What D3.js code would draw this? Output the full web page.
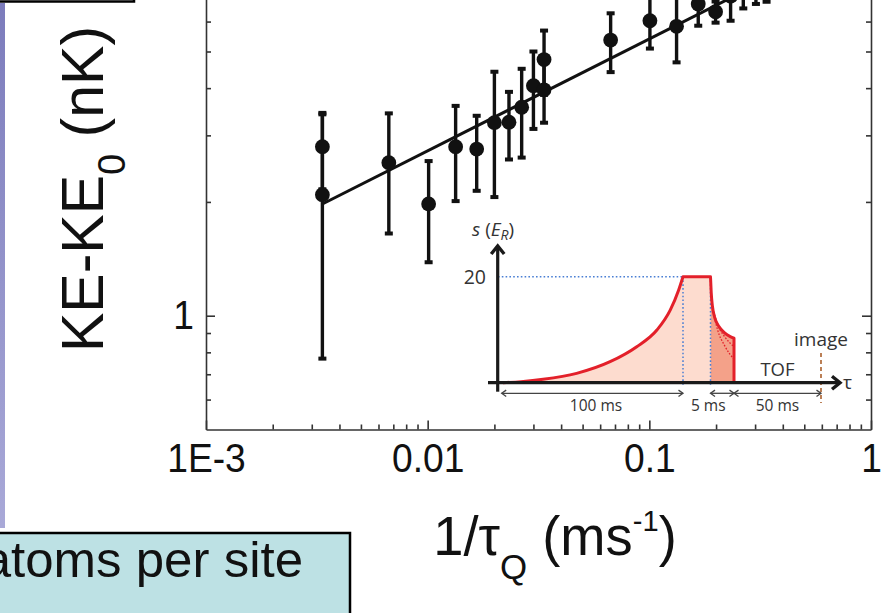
<!DOCTYPE html>
<html><head><meta charset="utf-8">
<script src="https://cdn.jsdelivr.net/npm/d3@7"></script>
<style>html,body{margin:0;padding:0;background:#fff;overflow:hidden}</style>
</head><body>
<svg id="chart" width="895" height="613"></svg>
<script>
// Excess kinetic energy after a lattice ramp, versus inverse quench time
const rate      = [0.00335, 0.00335, 0.00668, 0.0101, 0.01337, 0.01664, 0.0200, 0.02327, 0.02655, 0.0300, 0.0335, 0.0335, 0.0669, 0.1006, 0.1327, 0.1662, 0.199, 0.2326, 0.2654, 0.3026, 0.338];
const energy    = [2.80, 2.09, 2.54, 1.975, 2.80, 2.76, 3.24, 3.25, 3.56, 4.06, 4.76, 3.96, 5.36, 6.03, 5.83, 6.68, 6.37, 7.0, 7.2, 7.5, 7.8];
const energyErr = [0.64, 1.32, 0.89, 0.59, 0.79, 0.62, 1.18, 0.66, 0.94, 0.94, 0.92, 0.72, 0.95, 0.94, 1.15, 0.83, 0.41, 0.97, 0.70, 0.82, 1.03];

// power-law fit
const fitRate   = [0.00335, 0.35];
const fitEnergy = [1.975, 7.82];

const xTicks = [0.001, 0.01, 0.1, 1];
const xTickLabels = ["1E-3", "0.01", "0.1", "1"];
const yTicks = [1];
const yTickLabels = ["1"];

// Inset: lattice depth s (in E_R) versus time, schematic
const rampT = [0, 10, 22.3, 40.9, 59.5, 74.3, 85.5, 92.9, 97.6, 100];
const rampS = [0, 0.2, 0.63, 1.76, 3.96, 6.79, 9.94, 13.7, 17.5, 20];
const holdT = [100, 115];
const holdS = [20, 20];
const decayT = [115, 115.15, 115.4, 115.9, 116.8, 118, 119.2, 120];
const decayS = [20, 17, 14.5, 12.3, 10.6, 9.4, 8.7, 8.4];
const altT  = [115.35, 116.5, 118, 120];
const alt1S = [14.6, 11.0, 8.7, 6.8];
const alt2S = [14.6, 10.0, 7.0, 4.4];
const phaseStart = [0, 115, 120];
const phaseEnd   = [100, 120, 170];
const phaseLabels = ["100 ms", "5 ms", "50 ms"];
const imageT = 170;
const depthTick = 20;

const svg = d3.select("#chart");
const FONT = "'Liberation Sans', Arial, Helvetica, sans-serif";
const INK = "#111";
const AXIS = "#333";

// slide decorations
const grad = svg.append("defs").append("linearGradient")
  .attr("id", "strip").attr("x1", 0).attr("y1", 0).attr("x2", 0).attr("y2", 1);
grad.append("stop").attr("offset", "0%").attr("stop-color", "#7c7cbc");
grad.append("stop").attr("offset", "100%").attr("stop-color", "#a9a9d8");
svg.append("rect").attr("x", 0).attr("y", 3).attr("width", 5).attr("height", 525).attr("fill", "url(#strip)");
svg.append("rect").attr("x", -10).attr("y", -60).attr("width", 144).attr("height", 61.5)
  .attr("fill", "#fff").attr("stroke", "#000").attr("stroke-width", 2.5);

// main scales
const x = d3.scaleLog().domain([0.001, 1]).range([206, 871]);
const y = d3.scaleLog().domain([0.5, 10]).range([429.5, 429.5 - 378 * Math.log10(20)]);

const minorX = [];
[0.001, 0.01, 0.1].forEach(d => { for (let k = 2; k <= 9; k++) minorX.push(d * k); });
const minorY = [0.6, 0.7, 0.8, 0.9];
for (let k = 2; k <= 9; k++) minorY.push(k);

function styleAxis(g) {
  g.selectAll("path.domain").attr("stroke", AXIS).attr("stroke-width", 1.6);
  g.selectAll(".tick line").attr("stroke", AXIS).attr("stroke-width", 1.6);
  g.selectAll(".tick text").attr("fill", INK).attr("font-family", FONT).attr("font-size", 40)
    .attr("transform", "scale(0.93,1)");
}

const x0 = x.range()[0], x1 = x.range()[1], y0 = y.range()[0], y1 = y.range()[1];

// bottom axis
svg.append("g").attr("transform", `translate(0,${y0})`)
  .call(d3.axisBottom(x).tickValues(xTicks).tickSize(-9).tickSizeOuter(0).tickPadding(14)
    .tickFormat((d, i) => xTickLabels[i])).call(styleAxis);
svg.append("g").attr("transform", `translate(0,${y0})`)
  .call(d3.axisBottom(x).tickValues(minorX).tickSize(-5).tickFormat("")).call(styleAxis)
  .select("path.domain").remove();
// top axis
svg.append("g").attr("transform", `translate(0,${y1})`)
  .call(d3.axisTop(x).tickValues(xTicks).tickSize(-9).tickSizeOuter(0).tickFormat("")).call(styleAxis);
// left axis
svg.append("g").attr("transform", `translate(${x0},0)`)
  .call(d3.axisLeft(y).tickValues(yTicks).tickSize(-9).tickSizeOuter(0).tickPadding(13)
    .tickFormat((d, i) => yTickLabels[i])).call(styleAxis);
svg.append("g").attr("transform", `translate(${x0},0)`)
  .call(d3.axisLeft(y).tickValues(minorY).tickSize(-5).tickFormat("")).call(styleAxis)
  .select("path.domain").remove();
// right axis
svg.append("g").attr("transform", `translate(${x1},0)`)
  .call(d3.axisRight(y).tickValues(yTicks).tickSize(-9).tickSizeOuter(0).tickFormat("")).call(styleAxis);
svg.append("g").attr("transform", `translate(${x1},0)`)
  .call(d3.axisRight(y).tickValues(minorY).tickSize(-5).tickFormat("")).call(styleAxis)
  .select("path.domain").remove();

// fit line
svg.append("path")
  .datum(fitRate.map((r, i) => [r, fitEnergy[i]]))
  .attr("d", d3.line().x(d => x(d[0])).y(d => y(d[1])))
  .attr("fill", "none").attr("stroke", INK).attr("stroke-width", 3);

// error bars and points
const pts = rate.map((r, i) => ({ r, e: energy[i], s: energyErr[i] }));
const eb = svg.append("g");
pts.forEach(p => {
  const cx = x(p.r), top = y(p.e + p.s), bot = y(p.e - p.s);
  eb.append("line").attr("x1", cx).attr("x2", cx).attr("y1", top).attr("y2", bot)
    .attr("stroke", INK).attr("stroke-width", 3.4);
  [top, bot].forEach(v => eb.append("rect").attr("x", cx - 4).attr("y", v - 2).attr("width", 8).attr("height", 4).attr("fill", INK));
});
svg.append("g").selectAll("circle").data(pts).join("circle")
  .attr("cx", d => x(d.r)).attr("cy", d => y(d.e)).attr("r", 7.4).attr("fill", INK);

// axis titles
const yt = svg.append("text").attr("transform", "translate(103,189) rotate(-90)")
  .attr("text-anchor", "middle").attr("font-family", FONT).attr("font-size", 59).attr("fill", INK);
yt.append("tspan").text("KE-KE");
yt.append("tspan").attr("font-size", 38).attr("dy", 22).text("0");
yt.append("tspan").attr("dy", -22).text(" (nK)");

const xt = svg.append("text").attr("transform", "translate(555,555) scale(0.97,1)")
  .attr("text-anchor", "middle").attr("font-family", FONT).attr("font-size", 56).attr("fill", INK);
xt.append("tspan").text("1/τ");
xt.append("tspan").attr("font-size", 36).attr("dy", 24).text("Q");
xt.append("tspan").attr("dy", -24).text(" (ms");
xt.append("tspan").attr("font-size", 30).attr("dy", -24).text("-1");
xt.append("tspan").attr("dy", 24).text(")");

// ---- inset: lattice ramp sequence ----
const ix = d3.scaleLinear().domain([0, 100, 115, 120, 170]).range([503, 683, 710.5, 734, 821]);
const iy = d3.scaleLinear().domain([0, 20]).range([382.7, 276.7]);
const IFONT = "'Open Sans', 'DejaVu Sans', sans-serif";
const IGRAY = "#333";
const RED = "#e3202a";
const inset = svg.append("g");

const decay = decayT.map((t, i) => [t, decayS[i]]);

inset.append("path").datum(rampT.map((t, i) => [t, rampS[i]]))
  .attr("d", d3.area().curve(d3.curveMonotoneX).x(d => ix(d[0])).y0(iy(0)).y1(d => iy(d[1])))
  .attr("fill", "#fddccf");
inset.append("rect").attr("x", ix(holdT[0])).attr("y", iy(holdS[0]))
  .attr("width", ix(holdT[1]) - ix(holdT[0])).attr("height", iy(0) - iy(holdS[0])).attr("fill", "#fddccf");
inset.append("path").datum(decay)
  .attr("d", d3.area().curve(d3.curveMonotoneX).x(d => ix(d[0])).y0(iy(0)).y1(d => iy(d[1])))
  .attr("fill", "#f4a189");

// guide lines
const blue = "#4a7fd4";
inset.append("line").attr("x1", ix(0) - 5).attr("x2", ix(100)).attr("y1", iy(depthTick)).attr("y2", iy(depthTick))
  .attr("stroke", blue).attr("stroke-width", 1.5).attr("stroke-dasharray", "1.6,2.2");
[100, 115].forEach(t => inset.append("line").attr("x1", ix(t)).attr("x2", ix(t))
  .attr("y1", iy(depthTick)).attr("y2", iy(0) + 4)
  .attr("stroke", blue).attr("stroke-width", 1.5).attr("stroke-dasharray", "1.6,2.2"));

// faster quench alternatives
[alt1S, alt2S].forEach(arr => inset.append("path")
  .datum(altT.map((t, i) => [t, arr[i]]))
  .attr("d", d3.line().curve(d3.curveMonotoneX).x(d => ix(d[0])).y(d => iy(d[1])))
  .attr("fill", "none").attr("stroke", RED).attr("stroke-width", 1.3).attr("stroke-dasharray", "1.6,1.6"));

// ramp outline
const lm = d3.line().curve(d3.curveMonotoneX).x(d => ix(d[0])).y(d => iy(d[1]));
const outline = lm(rampT.map((t, i) => [t, rampS[i]]))
  + "L" + ix(holdT[1]) + "," + iy(holdS[1])
  + lm(decay).replace(/^M/, "L")
  + "L" + ix(decayT[decayT.length - 1]) + "," + iy(0);
inset.append("path").attr("d", outline).attr("fill", "none").attr("stroke", RED)
  .attr("stroke-width", 3).attr("stroke-linejoin", "round");

// image marker
inset.append("line").attr("x1", ix(imageT)).attr("x2", ix(imageT)).attr("y1", 353).attr("y2", 403)
  .attr("stroke", "#b06a3a").attr("stroke-width", 1.7).attr("stroke-dasharray", "4,3");

// inset axes with arrowheads
const axX = ix(0) - 5.3;
inset.append("line").attr("x1", axX).attr("x2", axX).attr("y1", iy(0) + 9).attr("y2", 246)
  .attr("stroke", "#1a1a1a").attr("stroke-width", 3.2);
inset.append("path").attr("d", `M${axX - 6.5},${254} L${axX},${246} L${axX + 6.5},${254}`)
  .attr("fill", "none").attr("stroke", "#1a1a1a").attr("stroke-width", 3.4);
inset.append("line").attr("x1", 488).attr("x2", 840).attr("y1", iy(0)).attr("y2", iy(0))
  .attr("stroke", "#1a1a1a").attr("stroke-width", 3.2);
inset.append("path").attr("d", `M${832},${iy(0) - 6.5} L${840},${iy(0)} L${832},${iy(0) + 6.5}`)
  .attr("fill", "none").attr("stroke", "#1a1a1a").attr("stroke-width", 3.4);

// dimension arrows
const dimY = 393.3;
phaseStart.forEach((t0, i) => {
  const a = ix(t0) - (i === 0 ? 1.3 : 0), b = ix(phaseEnd[i]);
  inset.append("line").attr("x1", a).attr("x2", b).attr("y1", dimY).attr("y2", dimY)
    .attr("stroke", "#444").attr("stroke-width", 1.3);
  inset.append("path").attr("d", `M${a + 4.5},${dimY - 3.2} L${a},${dimY} L${a + 4.5},${dimY + 3.2}`)
    .attr("fill", "none").attr("stroke", "#444").attr("stroke-width", 1.3);
  inset.append("path").attr("d", `M${b - 4.5},${dimY - 3.2} L${b},${dimY} L${b - 4.5},${dimY + 3.2}`)
    .attr("fill", "none").attr("stroke", "#444").attr("stroke-width", 1.3);
});
const labelShift = [3, -14, 0];
phaseLabels.forEach((lab, i) => inset.append("text")
  .attr("x", (ix(phaseStart[i]) + ix(phaseEnd[i])) / 2 + labelShift[i]).attr("y", 411)
  .attr("text-anchor", "middle").attr("font-family", IFONT).attr("font-size", 15.5).attr("fill", IGRAY).text(lab));

// inset labels
inset.append("text").attr("x", 486).attr("y", iy(depthTick) + 7).attr("text-anchor", "end")
  .attr("font-family", IFONT).attr("font-size", 19.5).attr("fill", IGRAY).text(depthTick);
const sl = inset.append("text").attr("x", 472).attr("y", 236)
  .attr("font-family", IFONT).attr("font-size", 19).attr("fill", IGRAY);
sl.append("tspan").attr("font-style", "italic").text("s");
sl.append("tspan").text(" (");
sl.append("tspan").attr("font-style", "italic").text("E");
sl.append("tspan").attr("font-style", "italic").attr("font-size", 14).attr("dy", 4).text("R");
sl.append("tspan").attr("dy", -4).text(")");
inset.append("text").attr("x", 843).attr("y", 389).attr("font-family", IFONT).attr("font-size", 19)
  .attr("fill", IGRAY).text("τ");
inset.append("text").attr("x", ix(145)).attr("y", 376).attr("text-anchor", "middle")
  .attr("font-family", IFONT).attr("font-size", 18.5).attr("fill", IGRAY).text("TOF");
inset.append("text").attr("x", ix(imageT)).attr("y", 346).attr("text-anchor", "middle")
  .attr("font-family", IFONT).attr("font-size", 19).attr("fill", IGRAY).text("image");

// caption box
svg.append("rect").attr("x", -10).attr("y", 533).attr("width", 360).attr("height", 120)
  .attr("fill", "#bde1e4").attr("stroke", "#000").attr("stroke-width", 2.5);
svg.append("text").attr("transform", "translate(303,577) scale(1.02,1)").attr("text-anchor", "end")
  .attr("font-family", FONT).attr("font-size", 50).attr("fill", INK).text("atoms per site");
</script>
</body></html>
